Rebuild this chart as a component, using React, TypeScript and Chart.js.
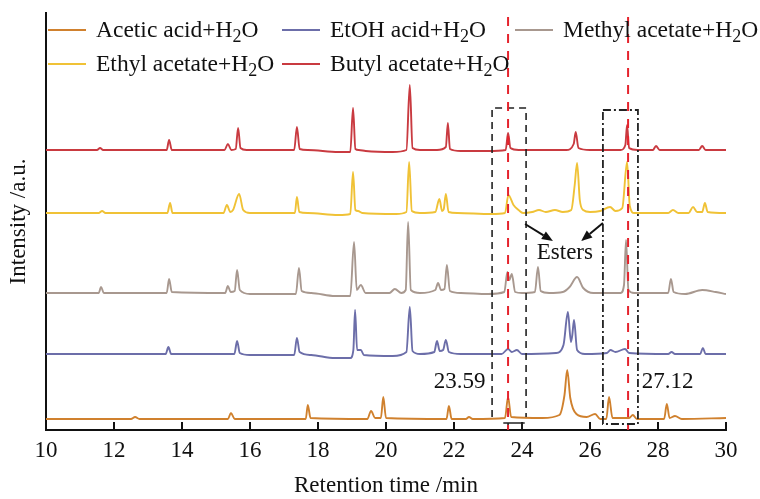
import React, { useEffect, useRef } from "react";
import { Chart, registerables } from "chart.js";
Chart.register(...registerables);

const FONT = "'Liberation Serif', 'Times New Roman', serif";

const xTicks = [10, 12, 14, 16, 18, 20, 22, 24, 26, 28, 30];
const markerTimes = [23.59, 27.12];
const markerLabels = ["23.59", "27.12"];

const seriesLabels = [
  "Acetic acid+H₂O",
  "EtOH acid+H₂O",
  "Methyl acetate+H₂O",
  "Ethyl acetate+H₂O",
  "Butyl acetate+H₂O",
];
const seriesColors = ["#d0812e", "#6c6ea9", "#a8988f", "#f0c236", "#c93a40"];

const aceticT = [10, 12.5, 12.62, 12.75, 15.35, 15.44, 15.55, 17.64, 17.7, 17.78, 19.45, 19.56, 19.68, 19.85, 19.92, 20.0, 21.78, 21.85, 21.93, 22.35, 22.44, 22.55, 23.5, 23.59, 23.68, 24.6, 25.1, 25.25, 25.33, 25.42, 25.6, 25.9, 26.15, 26.3, 26.48, 26.56, 26.66, 27.15, 27.26, 27.38, 28.18, 28.26, 28.34, 28.5, 28.7, 30];
const aceticY = [11, 11, 13, 11, 11, 17, 11, 11, 25, 12, 11, 19, 12, 12, 33, 12, 11, 24, 11, 11, 13, 11, 12, 33, 13, 12, 15, 35, 60, 32, 16, 13, 16, 11, 11, 33, 12, 12, 15, 11, 11, 26, 12, 14, 11, 12];

const etohT = [10, 13.52, 13.6, 13.68, 15.54, 15.62, 15.7, 16.0, 17.3, 17.38, 17.46, 17.8, 18.5, 18.95, 19.04, 19.09, 19.15, 19.26, 19.35, 20.2, 20.6, 20.7, 20.78, 21.0, 21.42, 21.5, 21.58, 21.68, 21.76, 21.85, 22.2, 23.4, 23.59, 23.7, 23.85, 24.0, 25.0, 25.22, 25.35, 25.44, 25.48, 25.53, 25.62, 25.85, 26.5, 26.6, 26.75, 27.03, 27.15, 28.3, 28.4, 28.5, 29.24, 29.32, 29.4, 30];
const etohY = [76, 76, 83, 76, 76, 89, 77, 75, 75, 92, 78, 75, 72, 72, 80, 120, 80, 80, 75, 74, 78, 123, 79, 76, 78, 89, 79, 80, 90, 78, 76, 76, 81, 78, 80, 76, 77, 85, 118, 88, 95, 110, 80, 76, 77, 80, 78, 81, 77, 76, 78, 76, 76, 82, 76, 76];

const methylT = [10, 11.55, 11.62, 11.7, 13.55, 13.62, 13.7, 15.27, 15.35, 15.43, 15.55, 15.62, 15.7, 16.0, 17.35, 17.44, 17.52, 17.8, 18.5, 18.95, 19.06, 19.14, 19.26, 19.4, 20.1, 20.26, 20.45, 20.58, 20.65, 20.73, 21.0, 21.45, 21.53, 21.62, 21.72, 21.79, 21.88, 22.2, 23.0, 23.48, 23.57, 23.63, 23.7, 23.8, 24.0, 24.38, 24.47, 24.55, 24.8, 25.2, 25.4, 25.62, 25.8, 26.1, 26.9, 27.0, 27.06, 27.13, 27.3, 28.3, 28.38, 28.46, 28.8, 29.3, 29.7, 30];
const methylY = [137, 137, 143, 137, 137, 151, 138, 137, 144, 138, 139, 160, 140, 136, 136, 162, 139, 137, 134, 134, 188, 140, 145, 137, 137, 141, 137, 140, 208, 140, 137, 140, 147, 140, 141, 165, 139, 137, 136, 138, 158, 150, 156, 138, 137, 138, 163, 139, 137, 138, 143, 153, 142, 137, 137, 145, 190, 140, 137, 137, 151, 138, 136, 140, 138, 136];

const ethylT = [10, 11.55, 11.65, 11.75, 13.57, 13.65, 13.72, 15.22, 15.32, 15.42, 15.5, 15.68, 15.8, 16.0, 17.32, 17.38, 17.45, 17.7, 18.6, 18.95, 19.03, 19.1, 19.18, 19.3, 20.3, 20.6, 20.68, 20.76, 21.0, 21.45, 21.57, 21.65, 21.7, 21.76, 21.84, 22.1, 23.1, 23.5, 23.6, 23.75, 23.9, 24.03, 24.3, 24.5, 24.7, 24.97, 25.2, 25.45, 25.55, 25.62, 25.7, 25.8, 26.0, 26.3, 26.59, 26.75, 26.95, 27.09, 27.17, 27.3, 28.3, 28.44, 28.6, 28.9, 29.03, 29.15, 29.3, 29.38, 29.46, 30];
const ethylY = [217, 217, 219, 217, 217, 227, 217, 217, 225, 218, 220, 236, 220, 217, 217, 233, 218, 217, 215, 216, 258, 220, 219, 217, 216, 218, 268, 219, 217, 218, 231, 219, 221, 236, 218, 217, 216, 217, 235, 225, 220, 217, 218, 220, 218, 220, 218, 220, 245, 267, 230, 220, 218, 219, 223, 219, 222, 268, 224, 217, 217, 220, 217, 217, 223, 218, 218, 227, 218, 217];

const butylT = [10, 11.5, 11.59, 11.68, 13.55, 13.62, 13.7, 15.25, 15.35, 15.45, 15.58, 15.65, 15.72, 15.9, 17.3, 17.38, 17.46, 17.7, 18.6, 18.95, 19.03, 19.1, 19.2, 19.4, 20.2, 20.6, 20.7, 20.78, 21.0, 21.5, 21.76, 21.82, 21.88, 22.2, 23.0, 23.52, 23.59, 23.66, 23.9, 25.3, 25.52, 25.58, 25.66, 26.0, 26.9, 27.04, 27.09, 27.15, 27.4, 27.85, 27.94, 28.05, 29.2, 29.3, 29.4, 30];
const butylY = [280, 280, 282, 280, 280, 290, 280, 280, 286, 280, 281, 302, 282, 280, 280, 303, 281, 280, 278, 278, 322, 281, 280, 279, 278, 280, 345, 282, 280, 280, 283, 307, 281, 279, 279, 280, 297, 282, 280, 280, 286, 298, 282, 280, 280, 285, 305, 282, 280, 280, 284, 280, 280, 284, 280, 280];

const seriesT = [aceticT, etohT, methylT, ethylT, butylT];
const seriesY = [aceticY, etohY, methylY, ethylY, butylY];

function drawSubText(ctx: CanvasRenderingContext2D, text: string, x: number, y: number, size: number) {
  const parts = text.split("₂");
  let cx = x;
  parts.forEach((p, i) => {
    ctx.font = `${size}px ${FONT}`;
    ctx.fillText(p, cx, y);
    cx += ctx.measureText(p).width;
    if (i < parts.length - 1) {
      ctx.font = `${Math.round(size * 0.75)}px ${FONT}`;
      ctx.fillText("2", cx, y + size * 0.28);
      cx += ctx.measureText("2").width;
    }
  });
}

function arrow(ctx: CanvasRenderingContext2D, x1: number, y1: number, x2: number, y2: number) {
  const a = Math.atan2(y2 - y1, x2 - x1);
  const L = 11, W = 4.5;
  const bx = x2 - L * Math.cos(a), by = y2 - L * Math.sin(a);
  ctx.beginPath();
  ctx.moveTo(x1, y1);
  ctx.lineTo(bx, by);
  ctx.stroke();
  ctx.beginPath();
  ctx.moveTo(x2, y2);
  ctx.lineTo(bx + W * Math.sin(a), by - W * Math.cos(a));
  ctx.lineTo(bx - W * Math.sin(a), by + W * Math.cos(a));
  ctx.closePath();
  ctx.fill();
}

const annotPlugin = {
  id: "annot",
  afterDatasetsDraw(chart: any) {
    const { ctx, scales } = chart;
    const X = (t: number) => scales.x.getPixelForValue(t);
    const Y = (v: number) => scales.y.getPixelForValue(v);
    ctx.save();
    // inward ticks
    ctx.strokeStyle = "#111";
    ctx.lineWidth = 2;
    ctx.setLineDash([]);
    xTicks.forEach((t) => {
      ctx.beginPath();
      ctx.moveTo(X(t), Y(0));
      ctx.lineTo(X(t), Y(0) - 8);
      ctx.stroke();
    });
    // dashed box around 23.59
    ctx.strokeStyle = "#222";
    ctx.lineWidth = 1.6;
    ctx.setLineDash([7, 5]);
    ctx.beginPath();
    ctx.moveTo(X(23.12), Y(13));
    ctx.lineTo(X(23.12), Y(322));
    ctx.lineTo(X(24.12), Y(322));
    ctx.lineTo(X(24.12), Y(13));
    ctx.stroke();
    ctx.setLineDash([]);
    ctx.beginPath();
    ctx.moveTo(X(23.45), Y(7));
    ctx.lineTo(X(24.08), Y(7));
    ctx.moveTo(X(24.0), Y(7));
    ctx.lineTo(X(24.0), Y(1));
    ctx.moveTo(X(23.59), Y(7));
    ctx.lineTo(X(23.59), Y(1));
    ctx.stroke();
    // dash-dot box around 27.12
    ctx.setLineDash([8, 3, 2, 3]);
    ctx.lineWidth = 1.8;
    ctx.strokeRect(X(26.38), Y(320), X(27.41) - X(26.38), Y(6) - Y(320));
    // red dashed markers
    ctx.strokeStyle = "#e5232d";
    ctx.lineWidth = 2;
    ctx.setLineDash([9, 8]);
    markerTimes.forEach((t) => {
      ctx.beginPath();
      ctx.moveTo(X(t), Y(413));
      ctx.lineTo(X(t), Y(0));
      ctx.stroke();
    });
    ctx.setLineDash([]);
    // arrows
    ctx.strokeStyle = "#111";
    ctx.fillStyle = "#111";
    ctx.lineWidth = 2;
    arrow(ctx, X(24.09), Y(206), X(24.91), Y(189));
    arrow(ctx, X(26.38), Y(207), X(25.74), Y(189));
    // texts
    ctx.fillStyle = "#111";
    ctx.font = `23px ${FONT}`;
    ctx.textBaseline = "middle";
    ctx.textAlign = "right";
    ctx.fillText(markerLabels[0], X(22.93), Y(48));
    ctx.textAlign = "left";
    ctx.fillText(markerLabels[1], X(27.52), Y(48));
    ctx.textAlign = "center";
    ctx.fillText("Esters", X(25.26), Y(177));
    ctx.restore();
  },
  afterDraw(chart: any) {
    const { ctx } = chart;
    const cols = [48, 282, 515];
    const rows = [30, 64];
    const pos = [
      [0, 0],
      [1, 0],
      [2, 0],
      [0, 1],
      [1, 1],
    ];
    ctx.save();
    ctx.textBaseline = "middle";
    ctx.textAlign = "left";
    chart.data.datasets.forEach((ds: any, i: number) => {
      const [c, r] = pos[i];
      const x = cols[c];
      const y = rows[r];
      ctx.strokeStyle = ds.borderColor;
      ctx.lineWidth = 2;
      ctx.beginPath();
      ctx.moveTo(x, y);
      ctx.lineTo(x + 38, y);
      ctx.stroke();
      ctx.fillStyle = "#111";
      drawSubText(ctx, ds.label, x + 48, y + 1, 23.5);
    });
    ctx.restore();
  },
};

export default function App() {
  const ref = useRef<HTMLCanvasElement>(null);
  useEffect(() => {
    if (!ref.current) return;
    const chart = new Chart(ref.current, {
      type: "line",
      data: {
        datasets: seriesLabels.map((label, i) => ({
          label,
          data: seriesT[i].map((t, j) => ({ x: t, y: seriesY[i][j] })),
          borderColor: seriesColors[i],
          backgroundColor: seriesColors[i],
          borderWidth: 1.9,
          pointRadius: 0,
          cubicInterpolationMode: "monotone" as const,
          fill: false,
        })),
      },
      options: {
        animation: false,
        responsive: false,
        layout: { padding: { top: 13, right: 34, left: 0, bottom: 0 } },
        plugins: { legend: { display: false }, tooltip: { enabled: false } },
        scales: {
          x: {
            type: "linear",
            min: 10,
            max: 30,
            afterFit: (s: any) => {
              s.height = 69;
            },
            afterBuildTicks: (s: any) => {
              s.ticks = xTicks.map((v) => ({ value: v }));
            },
            ticks: {
              font: { family: FONT, size: 23 },
              color: "#111",
              padding: 7,
              maxRotation: 0,
              autoSkip: false,
            },
            grid: { drawOnChartArea: false, drawTicks: false },
            border: { color: "#111", width: 2 },
            title: {
              display: true,
              text: "Retention time /min",
              font: { family: FONT, size: 23, lineHeight: 1.1 },
              color: "#111",
              padding: { top: 0, bottom: 0 },
            },
          },
          y: {
            min: 0,
            max: 417,
            afterFit: (s: any) => {
              s.width = 46;
            },
            ticks: { display: false },
            grid: { drawOnChartArea: false, drawTicks: false },
            border: { color: "#111", width: 2 },
            title: {
              display: true,
              text: "Intensity /a.u.",
              font: { family: FONT, size: 23, lineHeight: 1.2 },
              color: "#111",
              padding: { top: 5, bottom: 0 },
            },
          },
        },
      },
      plugins: [annotPlugin],
    });
    return () => chart.destroy();
  }, []);
  return (
    <div style={{ position: "absolute", left: 0, top: 0, width: 760, height: 499, background: "#fff" }}>
      <canvas ref={ref} width={760} height={499} style={{ display: "block" }} />
    </div>
  );
}
